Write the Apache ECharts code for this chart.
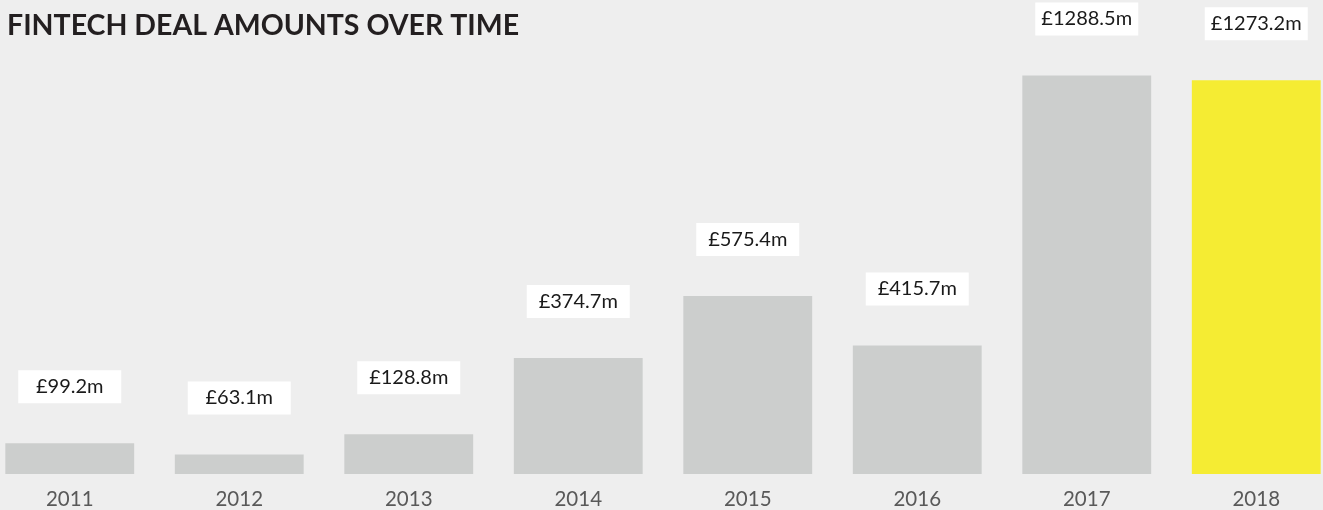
<!DOCTYPE html>
<html>
<head>
<meta charset="utf-8">
<style>
  html, body { margin: 0; padding: 0; background: #eeeeee; overflow: hidden; }
  /* the bars run past both edges of the window, so the canvas is a little wider */
  #chart { width: 1356px; height: 510px; margin-left: -15px; }
</style>
<script src="https://cdn.jsdelivr.net/npm/echarts@6/dist/echarts.min.js"></script>
</head>
<body>
<div id="chart"></div>
<script>
const years = ['2011', '2012', '2013', '2014', '2015', '2016', '2017', '2018']
const amounts = [99.2, 63.1, 128.8, 374.7, 575.4, 415.7, 1288.5, 1273.2]
const highlightYear = '2018'

const fontFamily = 'Lato, "Noto Sans", sans-serif'

const chart = echarts.init(document.getElementById('chart'))

chart.setOption({
  backgroundColor: '#eeeeee',
  animation: false,
  title: {
    text: 'FINTECH DEAL AMOUNTS OVER TIME',
    left: 17,
    top: 6,
    textStyle: {
      fontFamily: fontFamily,
      fontWeight: 'bold',
      fontSize: 28.5,
      color: '#231f20'
    }
  },
  grid: {
    left: 0,
    right: 0,
    top: 41,
    bottom: 36,
    containLabel: false
  },
  xAxis: {
    type: 'category',
    data: years,
    axisLine: { show: false },
    axisTick: { show: false },
    axisLabel: {
      margin: 15,
      fontFamily: fontFamily,
      fontSize: 20.5,
      color: '#595959'
    }
  },
  yAxis: {
    type: 'value',
    min: 0,
    max: 1400,
    show: false,
    splitLine: { show: false }
  },
  series: [{
    type: 'bar',
    barWidth: '76%',
    data: amounts.map((v, i) => ({
      value: v,
      itemStyle: { color: years[i] === highlightYear ? '#f5ec33' : '#cccecd' }
    })),
    label: {
      show: true,
      position: 'top',
      distance: 40,
      formatter: p => '£' + p.value.toFixed(1) + 'm',
      fontFamily: fontFamily,
      fontSize: 20,
      color: '#1a1a1a',
      backgroundColor: '#ffffff',
      width: 103,
      height: 33,
      lineHeight: 33,
      align: 'center'
    }
  }]
})
</script>
</body>
</html>
